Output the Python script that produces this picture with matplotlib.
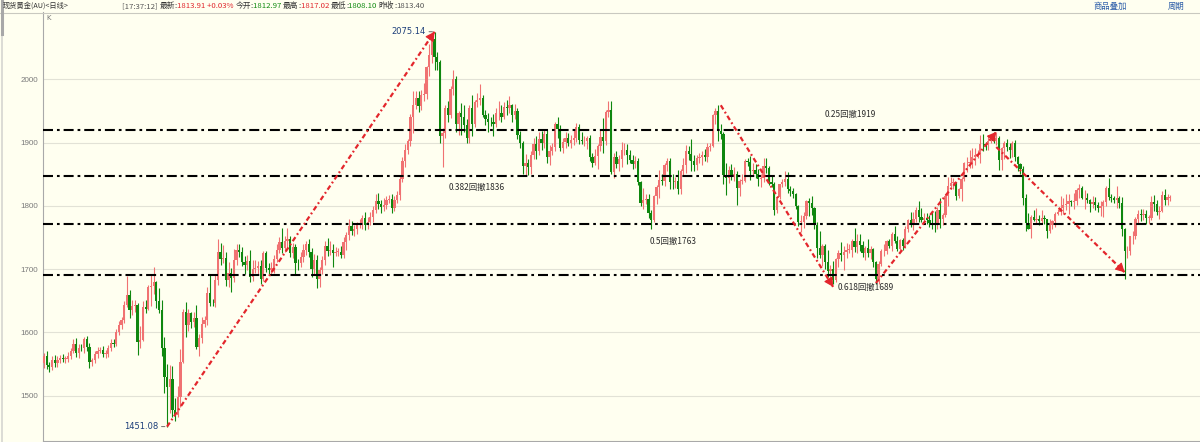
"""
Spot gold (AU) daily candles, Jan 2020 - Sep 2021, with the fibonacci
retracement levels of the 1451 -> 2075 rally drawn on top.
"""

import matplotlib
matplotlib.use('Agg')
import matplotlib.pyplot as plt
from matplotlib.lines import Line2D
import numpy as np

plt.rcParams['font.family'] = ['Noto Sans CJK SC', 'DejaVu Sans']

# ---------------------------------------------------------------------
# data (daily closes, one row per month)
# ---------------------------------------------------------------------
closes_2020 = [
    1562, 1548, 1545, 1557, 1552, 1557, 1560, 1558, 1558, 1563, 1571, 1582, 1567, 1576, 1575, 1589,
    1577, 1553, 1556, 1566, 1571, 1573, 1566, 1566, 1576, 1584, 1581, 1601, 1611, 1620, 1643, 1659, 1635, 1642, 1643, 1585,
    1588, 1640, 1637, 1672, 1674, 1680, 1649, 1636, 1576, 1530, 1514, 1526, 1478, 1470, 1498, 1553, 1632, 1611, 1630, 1617, 1622, 1577,
    1591, 1613, 1620, 1662, 1647, 1646, 1683, 1727, 1716, 1717, 1683, 1694, 1686, 1714, 1730, 1727, 1712, 1707, 1713, 1687,
    1700, 1702, 1705, 1685, 1725, 1702, 1698, 1702, 1716, 1731, 1743, 1733, 1745, 1747, 1725, 1735, 1710, 1709, 1719, 1730,
    1740, 1727, 1700, 1714, 1685, 1698, 1715, 1737, 1729, 1730, 1726, 1727, 1727, 1722, 1743, 1754, 1768, 1761, 1763, 1771, 1771, 1781,
    1770, 1775, 1783, 1794, 1808, 1803, 1798, 1802, 1809, 1811, 1796, 1810, 1817, 1842, 1871, 1888, 1902, 1941, 1959, 1970, 1958, 1975,
    1976, 2019, 2038, 2063, 2035, 2028, 1911, 1915, 1954, 1944, 1985, 2001, 1929, 1946, 1940, 1928, 1907, 1954, 1930, 1964, 1968,
    1970, 1944, 1937, 1933, 1932, 1930, 1946, 1946, 1941, 1956, 1954, 1959, 1944, 1950, 1912, 1900, 1863, 1868, 1862, 1881, 1898, 1886,
    1905, 1900, 1914, 1878, 1887, 1893, 1930, 1922, 1891, 1901, 1908, 1899, 1904, 1907, 1924, 1904, 1902, 1902, 1908, 1877, 1868, 1879,
    1894, 1909, 1903, 1948, 1951, 1854, 1877, 1866, 1874, 1888, 1888, 1880, 1872, 1866, 1871, 1837, 1805, 1810, 1811, 1788, 1777,
    1815, 1830, 1841, 1839, 1864, 1871, 1838, 1837, 1840, 1827, 1855, 1864, 1887, 1882, 1871, 1864, 1875, 1877, 1880, 1877, 1893, 1895,
]
closes_2021 = [
    1944, 1950, 1918, 1913, 1849, 1844, 1856, 1845, 1851, 1828, 1840, 1840, 1871, 1870, 1855, 1856, 1850, 1843, 1844, 1863,
    1860, 1837, 1835, 1794, 1814, 1834, 1838, 1842, 1826, 1823, 1819, 1799, 1775, 1775, 1784, 1808, 1805, 1797, 1770, 1734,
    1723, 1737, 1711, 1697, 1700, 1683, 1716, 1726, 1722, 1727, 1731, 1731, 1745, 1735, 1745, 1738, 1726, 1734, 1726, 1732, 1712, 1685, 1708,
    1728, 1728, 1744, 1737, 1756, 1744, 1732, 1746, 1736, 1764, 1777, 1771, 1779, 1793, 1783, 1777, 1781, 1778, 1773, 1772, 1769,
    1793, 1779, 1785, 1815, 1831, 1836, 1836, 1815, 1826, 1843, 1867, 1868, 1870, 1877, 1881, 1881, 1898, 1897, 1896, 1903, 1905,
    1903, 1908, 1872, 1891, 1899, 1893, 1888, 1899, 1877, 1866, 1859, 1812, 1773, 1764, 1782, 1778, 1779, 1776, 1781, 1779, 1761, 1770,
    1776, 1787, 1791, 1796, 1802, 1803, 1808, 1806, 1808, 1825, 1828, 1812, 1813, 1810, 1803, 1806, 1802, 1797, 1799, 1806, 1828, 1814,
    1813, 1810, 1812, 1804, 1763, 1728, 1729, 1752, 1753, 1780, 1787, 1786, 1787, 1781, 1781, 1806, 1803, 1790, 1792, 1817, 1810, 1813.40,
    1813.91,
]

# upper / lower shadow beyond the body, same order as the closes
up_wick_2020 = [
    6, 8, 5, 6, 7, 5, 4, 6, 5, 6, 5, 7, 9, 5, 6, 4,
    5, 6, 4, 5, 6, 4, 5, 6, 4, 5, 6, 4, 7, 5, 6, 30, 8, 9, 8, 3,
    22, 9, 12, 3, 18, 23, 1, 21, 16, 17, 20, 23, 21, 18, 18, 21, 5, 16, 7, 2, 10, 21,
    6, 12, 6, 10, 28, 6, 7, 20, 14, 21, 10, 17, 8, 18, 9, 10, 8, 8, 9, 17,
    15, 12, 8, 9, 4, 3, 8, 9, 6, 9, 8, 22, 8, 18, 6, 7, 4, 6, 8, 9,
    5, 8, 6, 10, 8, 6, 6, 7, 13, 14, 9, 8, 6, 10, 8, 5, 11, 8, 6, 4, 8, 5,
    9, 8, 7, 5, 10, 12, 7, 11, 6, 6, 8, 5, 6, 6, 7, 10, 4, 4, 22, 11, 12, 8,
    18, 2, 17, 6, 12.14, 8, 3, 8, 5, 11, 4, 14, 4, 4, 16, 20, 10, 5, 21, 4, 10,
    22, 5, 8, 10, 7, 13, 9, 19, 14, 8, 12, 14, 2, 11, 5, 6, 3, 14, 6, 5, 9, 13,
    11, 13, 6, 7, 9, 7, 3, 11, 6, 6, 9, 7, 8, 15, 7, 5, 12, 8, 2, 4, 6, 11,
    4, 13, 30, 3, 14, 15, 6, 10, 7, 13, 11, 9, 8, 9, 8, 4, 3, 18, 7, 7, 5,
    2, 3, 15, 9, 3, 4, 4, 12, 5, 16, 4, 11, 9, 8, 24, 9, 5, 6, 6, 10, 7, 5,
]
up_wick_2021 = [
    1, 4, 9, 12, 4, 19, 7, 10, 10, 4, 3, 10, 3, 5, 9, 12, 10, 9, 7, 12,
    12, 3, 11, 3, 1, 1, 5, 13, 12, 5, 6, 1, 3, 10, 6, 2, 4, 10, 1, 5,
    26, 3, 2, 19, 6, 13, 2, 5, 17, 10, 10, 9, 3, 20, 10, 10, 6, 3, 14, 4, 1, 1, 5,
    4, 11, 2, 4, 2, 12, 9, 2, 4, 4, 3, 13, 11, 5, 14, 14, 8, 7, 8, 18, 20,
    5, 20, 3, 3, 14, 9, 8, 2, 3, 3, 2, 10, 18, 14, 10, 8, 14, 15, 4, 9, 3,
    11, 8, 2, 2, 4, 7, 7, 4, 5, 2, 2, 4, 7, 15, 4, 11, 17, 7, 12, 4, 1, 9,
    2, 3, 4, 19, 11, 15, 10, 2, 12, 4, 6, 3, 12, 8, 1, 9, 8, 4, 8, 4, 4, 16,
    4, 3, 19, 4, 10, 2, 7, 1, 7, 2, 7, 8, 8, 6, 5, 9, 11, 6, 8, 7, 10, 6,
    3.11,
]
down_wick_2020 = [
    8, 6, 7, 5, 6, 6, 5, 4, 6, 5, 5, 4, 6, 7, 5, 8,
    6, 10, 6, 5, 6, 4, 5, 6, 5, 5, 4, 3, 5, 6, 5, 3, 12, 8, 10, 21,
    10, 2, 7, 2, 31, 13, 10, 5, 14, 26, 62.92, 41, 11, 10, 4, 16, 1, 19, 8, 10, 8, 3,
    15, 8, 5, 8, 6, 5, 6, 8, 10, 6, 9, 11, 22, 6, 8, 8, 7, 14, 9, 7,
    6, 6, 10, 8, 4, 6, 6, 5, 8, 5, 6, 8, 6, 10, 6, 7, 20, 10, 5, 8,
    7, 8, 12, 8, 15, 14, 5, 8, 9, 7, 22, 6, 6, 5, 4, 12, 8, 7, 8, 7, 6, 7,
    8, 6, 6, 8, 5, 8, 9, 6, 7, 5, 8, 4, 6, 8, 4, 10, 6, 8, 26, 6, 10, 6,
    10, 7, 13, 12, 20, 14, 11, 49, 8, 12, 5, 10, 13, 17, 28, 12, 7, 7, 19, 6, 8,
    8, 4, 10, 17, 6, 20, 6, 10, 9, 3, 10, 8, 12, 7, 6, 8, 12, 14, 14, 12, 7, 12,
    6, 12, 9, 10, 13, 6, 7, 14, 5, 8, 9, 4, 7, 8, 6, 6, 5, 7, 12, 6, 7, 3,
    20, 8, 20, 7, 8, 4, 10, 6, 11, 12, 7, 14, 5, 8, 6, 4, 5, 10, 7, 7, 13,
    3, 12, 18, 6, 8, 9, 12, 10, 8, 8, 8, 6, 12, 10, 16, 9, 8, 8, 13, 6, 8, 7,
]
down_wick_2021 = [
    2, 14, 16, 7, 14, 27, 8, 4, 5, 26, 12, 6, 2, 7, 14, 8, 6, 12, 13, 6,
    8, 4, 5, 9, 6, 3, 4, 6, 5, 8, 7, 4, 7, 16, 10, 5, 21, 12, 6, 17,
    6, 18, 10, 10, 13, 7, 4, 13, 9, 23, 9, 6, 12, 8, 9, 9, 7, 11, 7, 10, 8, 8, 8,
    3, 7, 4, 3, 8, 2, 4, 5, 5, 2, 5, 5, 9, 5, 9, 2, 2, 6, 6, 9, 10,
    5, 14, 9, 3, 15, 3, 10, 6, 3, 19, 3, 13, 8, 10, 12, 6, 14, 10, 8, 8, 4,
    3, 7, 16, 16, 17, 6, 13, 10, 6, 11, 8, 10, 12, 1, 14, 2, 7, 6, 4, 8, 11, 4,
    7, 10, 2, 5, 9, 8, 16, 6, 11, 6, 13, 1, 17, 5, 12, 7, 8, 6, 13, 16, 7, 5,
    7, 5, 14, 7, 10, 44, 11, 6, 13, 5, 8, 10, 8, 9, 9, 4, 11, 4, 10, 2, 9, 8,
    4.87,
]
first_open = 1552.0
last_open = 1812.97

y_ticks = [1500, 1600, 1700, 1800, 1900, 2000]

fib_levels = [1920, 1847, 1771, 1690]
fib_labels = ['0.25回撤1919', '0.382回撤1836', '0.5回撤1763', '0.618回撤1689']

# swing arrows: candle index / price at start and end
arrow_from_idx = [46, 253, 311, 356]
arrow_from_px = [1451.08, 1959, 1678, 1893]
arrow_to_idx = [146, 295, 356, 404]
arrow_to_px = [2075.14, 1672, 1917, 1695]

# quote header
quote_time = '[17:37:12]'
quote_last = '1813.91'
quote_chg = '+0.03%'
quote_open = '1812.97'
quote_high = '1817.02'
quote_low = '1808.10'
quote_prev = '1813.40'

W, H = 1200, 442
BG = '#fffff0'
UP_RED = '#f07272'
DOWN_GREEN = '#0f870f'
ARROW_RED = '#e3262c'
STEP = 2.675          # pixels per candle
TOP, BOTTOM, LEFT = 12, 441, 43


def fig_xy(x, y):
    """pixel (from top-left) -> figure fraction"""
    return x / W, 1 - y / H


def main():
    closes = np.array(closes_2020 + closes_2021, dtype=float)
    up = np.array(up_wick_2020 + up_wick_2021, dtype=float)
    dn = np.array(down_wick_2020 + down_wick_2021, dtype=float)
    assert len(closes) == len(up) == len(dn)
    n = len(closes)
    opens = np.r_[first_open, closes[:-1]]
    opens[-1] = last_open
    highs = np.maximum(opens, closes) + up
    lows = np.minimum(opens, closes) - dn
    idx = np.arange(n)

    fig = plt.figure(figsize=(W / 100, H / 100), dpi=100, facecolor=BG)
    ax = fig.add_axes([LEFT / W, 1 - BOTTOM / H, (W - LEFT) / W, (BOTTOM - TOP) / H])
    ax.set_facecolor(BG)

    # scale: 1500 at y=395.7px, 2000 at y=79.3px
    ppd = (395.7 - 79.3) / 500.0
    ax.set_ylim(2000 - (BOTTOM - 79.3) / ppd, 2000 + (79.3 - TOP) / ppd)
    x0 = -1 / STEP
    ax.set_xlim(x0, x0 + (W - LEFT) / STEP)

    # =====================================================================
    # grid / axes
    # =====================================================================
    ax.set_yticks(y_ticks)
    ax.set_xticks([])
    ax.grid(axis='y', color='#e2e2d6', lw=0.8, zorder=0)
    ax.tick_params(axis='y', length=0, pad=3.5, labelsize=5.8, labelcolor='#7a7a7a')
    for lab in ax.get_yticklabels():
        lab.set_family(['Liberation Sans', 'DejaVu Sans'])
    for side in ['top', 'right']:
        ax.spines[side].set_visible(False)
    for side in ['left', 'bottom']:
        ax.spines[side].set_color('#a9a9a9')
        ax.spines[side].set_linewidth(0.8)

    # =====================================================================
    # candles
    # =====================================================================
    rising = closes >= opens
    colors = np.where(rising, UP_RED, DOWN_GREEN)
    ax.vlines(idx, lows, highs, colors=colors, lw=0.8, zorder=3)
    body = np.maximum(np.abs(closes - opens), 1.0)
    ax.bar(idx, body, bottom=np.minimum(opens, closes), width=0.85,
           color=colors, linewidth=0, zorder=4)

    # =====================================================================
    # fibonacci levels
    # =====================================================================
    for lvl in fib_levels:
        ax.axhline(lvl, color='black', lw=1.5, zorder=5,
                   linestyle=(0, (4.8, 1.9, 1.3, 1.9)))

    label_pos = [(850, 114), (477, 187.5), (673, 241), (865.5, 287)]
    for text, (px, py) in zip(fib_labels, label_pos):
        fx, fy = fig_xy(px, py)
        fig.text(fx, fy, text, fontsize=6, color='#2b2b2b',
                 ha='center', va='center')

    # =====================================================================
    # swing arrows
    # =====================================================================
    for xa, ya, xb, yb in zip(arrow_from_idx, arrow_from_px, arrow_to_idx, arrow_to_px):
        ax.plot([xa, xb], [ya, yb], color=ARROW_RED, lw=1.6, zorder=6,
                linestyle=(0, (2.2, 1.3, 0.8, 1.3)), solid_capstyle='butt')
        length = np.hypot((xb - xa) * STEP, (yb - ya) * ppd)
        f = 9.0 / length
        ax.annotate('', xy=(xb, yb), xytext=(xb - f * (xb - xa), yb - f * (yb - ya)),
                    arrowprops=dict(arrowstyle='-|>,head_length=0.55,head_width=0.3',
                                    color=ARROW_RED, lw=0.8, shrinkA=0, shrinkB=0,
                                    mutation_scale=10), zorder=7)

    # extreme price tags
    i_hi = int(np.argmax(highs))
    i_lo = int(np.argmin(lows))
    for i, price in [(i_hi, highs[i_hi]), (i_lo, lows[i_lo])]:
        ax.annotate(f'{price:.2f}', xy=(i, price), xytext=(-6.5, 0),
                    textcoords='offset points', ha='right', va='center',
                    fontsize=6, color='#1d3f7a', family=['DejaVu Sans'],
                    arrowprops=dict(arrowstyle='-', color='#555555', lw=0.6,
                                    shrinkA=0.5, shrinkB=1.5), zorder=8)

    # =====================================================================
    # header and frame decorations
    # =====================================================================
    fig.add_artist(Line2D([0, 1], [1 - 12.5 / H] * 2, transform=fig.transFigure,
                          color='#c9c9c0', lw=0.8))
    fig.add_artist(Line2D([1.5 / W] * 2, [0, 1], transform=fig.transFigure,
                          color='#d6d6d0', lw=1.2))
    fig.add_artist(Line2D([1.5 / W] * 2, [1 - 34 / H, 1], transform=fig.transFigure,
                          color='#a8a8a8', lw=2.2))

    fx, fy = fig_xy(3, 6)
    fig.text(fx, fy, '现货黄金(AU)<日线>', fontsize=5.2, color='#333333', va='center')
    fx, fy = fig_xy(46, 18)
    fig.text(fx, fy, 'K', fontsize=5, color='#777777', va='center',
             family=['DejaVu Sans'])

    segments = [
        (quote_time + ' ', '#555555'), ('最新', '#333333'), (':', '#333333'),
        (quote_last + ' ', '#e0262b'), (quote_chg + ' ', '#e0262b'),
        ('今开', '#333333'), (':', '#333333'), (quote_open + ' ', '#118a11'),
        ('最高', '#333333'), (':', '#333333'), (quote_high + ' ', '#e0262b'),
        ('最低', '#333333'), (':', '#333333'), (quote_low + ' ', '#118a11'),
        ('昨收', '#333333'), (':', '#333333'), (quote_prev, '#555555'),
    ]
    fig.canvas.draw()
    renderer = fig.canvas.get_renderer()
    x = 122.0
    for text, color in segments:
        fx, fy = fig_xy(x, 6)
        t = fig.text(fx, fy, text, fontsize=5.6, color=color, va='center')
        x += t.get_window_extent(renderer).width

    for text, px in [('商品叠加', 1093), ('周期', 1168)]:
        fx, fy = fig_xy(px, 6)
        fig.text(fx, fy, text, fontsize=6, color='#2a5ca8', va='center')

    fig.savefig('out.png', dpi=100, facecolor=BG)
    plt.close(fig)


if __name__ == '__main__':
    main()
